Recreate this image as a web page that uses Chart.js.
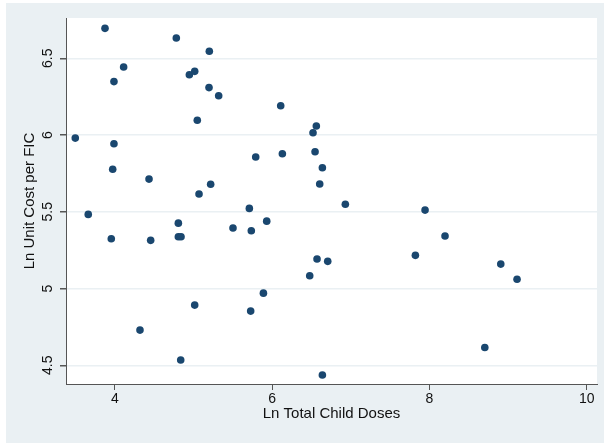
<!DOCTYPE html>
<html>
<head>
<meta charset="utf-8">
<script src="https://cdn.jsdelivr.net/npm/chart.js@4/dist/chart.umd.min.js"></script>
<style>
  html, body { margin: 0; padding: 0; background: #ffffff; }
  canvas { display: block; }
</style>
</head>
<body>
<canvas id="c" width="604" height="443"></canvas>
<script>
// Ln Total Child Doses
const lnDoses = [
  3.873, 4.780, 5.200, 4.110, 3.987, 4.946, 5.014, 5.196, 5.319, 6.108,
  5.047, 3.495, 3.987, 3.971, 4.433, 5.790, 6.129, 5.069, 5.217, 5.709,
  3.660, 6.561, 6.519, 6.545, 6.638, 6.604, 6.930, 7.944, 3.953, 4.454,
  4.806, 4.806, 4.840, 5.501, 5.734, 5.930, 6.570, 6.477, 5.014, 5.888,
  5.726, 4.318, 4.836, 6.638, 6.706, 7.821, 8.198, 8.907, 9.114, 8.704
];
// Ln Unit Cost per FIC
const lnCost = [
  6.695, 6.632, 6.546, 6.443, 6.348, 6.393, 6.415, 6.309, 6.256, 6.191,
  6.096, 5.980, 5.943, 5.777, 5.713, 5.857, 5.878, 5.616, 5.679, 5.522,
  5.483, 6.059, 6.015, 5.891, 5.787, 5.681, 5.549, 5.511, 5.324, 5.314,
  5.426, 5.337, 5.337, 5.394, 5.376, 5.439, 5.192, 5.083, 4.892, 4.970,
  4.853, 4.729, 4.534, 4.437, 5.177, 5.216, 5.342, 5.159, 5.060, 4.616
];
const xTicks = [4, 6, 8, 10];
const yTicks = [4.5, 5, 5.5, 6, 6.5];
const xTitle = 'Ln Total Child Doses';
const yTitle = 'Ln Unit Cost per FIC';

const points = lnDoses.map((x, i) => ({ x: x, y: lnCost[i] }));

const FONT = '"Liberation Sans", Arial, sans-serif';
const BG = '#eaf0f3';

const bgPlugin = {
  id: 'bg',
  beforeDraw(chart) {
    const ctx = chart.ctx;
    const a = chart.chartArea;
    ctx.save();
    ctx.fillStyle = BG;
    ctx.fillRect(6, 3, chart.width - 6, chart.height - 3);
    ctx.fillStyle = '#ffffff';
    ctx.fillRect(a.left, a.top, a.right - a.left, a.bottom - a.top);
    ctx.restore();
  },
  afterDraw(chart) {
    const ctx = chart.ctx;
    const ys = chart.scales.y;
    ctx.save();
    ctx.fillStyle = '#111111';
    ctx.font = '14px ' + FONT;
    ctx.textAlign = 'center';
    ctx.textBaseline = 'middle';
    yTicks.forEach(v => {
      const py = ys.getPixelForValue(v);
      ctx.save();
      ctx.translate(48, py);
      ctx.rotate(-Math.PI / 2);
      ctx.fillText(String(v), 0, 0);
      ctx.restore();
    });
    ctx.restore();
  }
};

new Chart(document.getElementById('c'), {
  type: 'scatter',
  data: {
    datasets: [{
      data: points,
      backgroundColor: '#1a476f',
      borderColor: '#1a476f',
      borderWidth: 0,
      pointRadius: 3.8,
      pointHoverRadius: 3.8
    }]
  },
  options: {
    responsive: false,
    devicePixelRatio: 1,
    animation: false,
    layout: { padding: { left: 0, top: 18, right: 7, bottom: 0 } },
    plugins: {
      legend: { display: false },
      tooltip: { enabled: false }
    },
    scales: {
      x: {
        type: 'linear',
        min: 3.377,
        max: 10.131,
        afterFit(scale) { scale.height = 59; },
        afterBuildTicks(scale) { scale.ticks = xTicks.map(v => ({ value: v })); },
        border: { display: true, color: '#555555', width: 1 },
        grid: { drawOnChartArea: false, drawTicks: true, tickLength: 6, color: '#555555' },
        ticks: { color: '#111111', font: { family: FONT, size: 14 }, padding: 1, maxRotation: 0 },
        title: { display: true, text: xTitle, color: '#111111', font: { family: FONT, size: 15 }, padding: { top: 0, bottom: 20 } }
      },
      y: {
        type: 'linear',
        min: 4.378,
        max: 6.7625,
        afterFit(scale) { scale.width = 66; },
        afterBuildTicks(scale) { scale.ticks = yTicks.map(v => ({ value: v })); },
        border: { display: true, color: '#555555', width: 1 },
        grid: { drawOnChartArea: true, drawTicks: true, tickLength: 6, color: BG, tickColor: '#555555', lineWidth: 1.5 },
        ticks: { display: false },
        title: { display: true, text: yTitle, color: '#111111', font: { family: FONT, size: 15 }, padding: { top: 21, bottom: 0 } }
      }
    }
  },
  plugins: [bgPlugin]
});
</script>
</body>
</html>
